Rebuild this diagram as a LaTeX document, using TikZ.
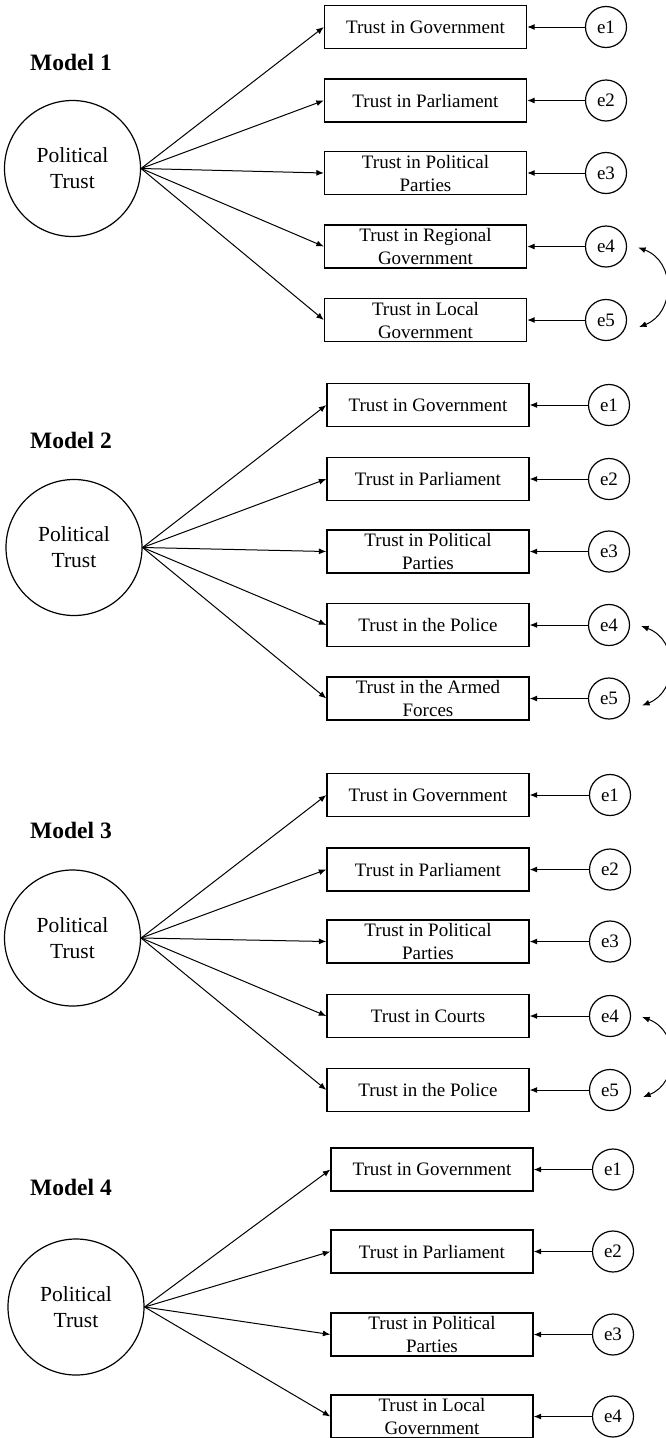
\documentclass[tikz,border=0pt]{standalone}
\usepackage{fontspec}
\setmainfont{Liberation Serif}
\usetikzlibrary{arrows.meta}
\tikzset{
  latent/.style={draw, circle, line width=1.2pt, minimum size=136pt, inner sep=0pt, align=center, font=\fontsize{21.5}{26}\selectfont},
  item/.style={draw, rectangle, line width=1.3pt, minimum width=202pt, minimum height=43pt, inner sep=0pt, align=center, font=\fontsize{19}{23}\selectfont},
  err/.style={draw, circle, line width=1.2pt, minimum size=41pt, inner sep=0pt, font=\fontsize{19}{23}\selectfont},
  title/.style={anchor=west, inner sep=0pt, font=\fontsize{23.5}{28}\selectfont\bfseries},
  load/.style={-{Latex[length=7.5pt,width=6pt]}, line width=1pt},
  corr/.style={{Latex[length=7.5pt,width=6pt]}-{Latex[length=7.5pt,width=6pt]}, line width=1pt}
}
\begin{document}
\begin{tikzpicture}[x=1pt, y=-1pt]
    \useasboundingbox (0,0) rectangle (666,1438);

    % Model 1
    \node[title] (t1) at (30,62) {Model 1};
    \node[latent] (p1) at (72.5,168.5) {Political\\Trust};
    \foreach \n/\y/\txt in {1/27/{Trust in Government}, 2/100.5/{Trust in Parliament}, 3/173/{Trust in Political\\Parties}, 4/246.5/{Trust in Regional\\Government}, 5/320/{Trust in Local\\Government}} {
        \node[item] (m1i\n) at (425.5,\y) {\txt};
        \node[err] (m1e\n) at (606,\y) {e\n};
        \draw[load] (p1.east) -- (m1i\n.west);
        \draw[load] (m1e\n) -- (m1i\n);
    }
    \draw[corr] ([xshift=11pt,yshift=-1pt]m1e4.east) .. controls +(38,14) and +(36,-14) .. ([xshift=12pt,yshift=-7pt]m1e5.east);

    % Model 2
    \node[title] (t2) at (30,440) {Model 2};
    \node[latent] (p2) at (74,547.5) {Political\\Trust};
    \foreach \n/\y/\txt in {1/405/{Trust in Government}, 2/479/{Trust in Parliament}, 3/551.5/{Trust in Political\\Parties}, 4/625/{Trust in the Police}, 5/698.5/{Trust in the Armed\\Forces}} {
        \node[item] (m2i\n) at (428,\y) {\txt};
        \node[err] (m2e\n) at (609,\y) {e\n};
        \draw[load] (p2.east) -- (m2i\n.west);
        \draw[load] (m2e\n) -- (m2i\n);
    }
    \draw[corr] ([xshift=11pt,yshift=-1pt]m2e4.east) .. controls +(38,14) and +(36,-14) .. ([xshift=12pt,yshift=-7pt]m2e5.east);

    % Model 3
    \node[title] (t3) at (30,830) {Model 3};
    \node[latent] (p3) at (72.5,938) {Political\\Trust};
    \foreach \n/\y/\txt in {1/795/{Trust in Government}, 2/869.5/{Trust in Parliament}, 3/941.5/{Trust in Political\\Parties}, 4/1016/{Trust in Courts}, 5/1090/{Trust in the Police}} {
        \node[item] (m3i\n) at (428,\y) {\txt};
        \node[err] (m3e\n) at (610,\y) {e\n};
        \draw[load] (p3.east) -- (m3i\n.west);
        \draw[load] (m3e\n) -- (m3i\n);
    }
    \draw[corr] ([xshift=11pt,yshift=-1pt]m3e4.east) .. controls +(38,14) and +(36,-14) .. ([xshift=12pt,yshift=-7pt]m3e5.east);

    % Model 4
    \node[title] (t4) at (30,1187) {Model 4};
    \node[latent] (p4) at (76,1307) {Political\\Trust};
    \foreach \n/\y/\txt in {1/1169.5/{Trust in Government}, 2/1251.5/{Trust in Parliament}, 3/1334.5/{Trust in Political\\Parties}, 4/1416.5/{Trust in Local\\Government}} {
        \node[item] (m4i\n) at (432,\y) {\txt};
        \node[err] (m4e\n) at (613,\y) {e\n};
        \draw[load] (p4.east) -- (m4i\n.west);
        \draw[load] (m4e\n) -- (m4i\n);
    }
\end{tikzpicture}
\end{document}
